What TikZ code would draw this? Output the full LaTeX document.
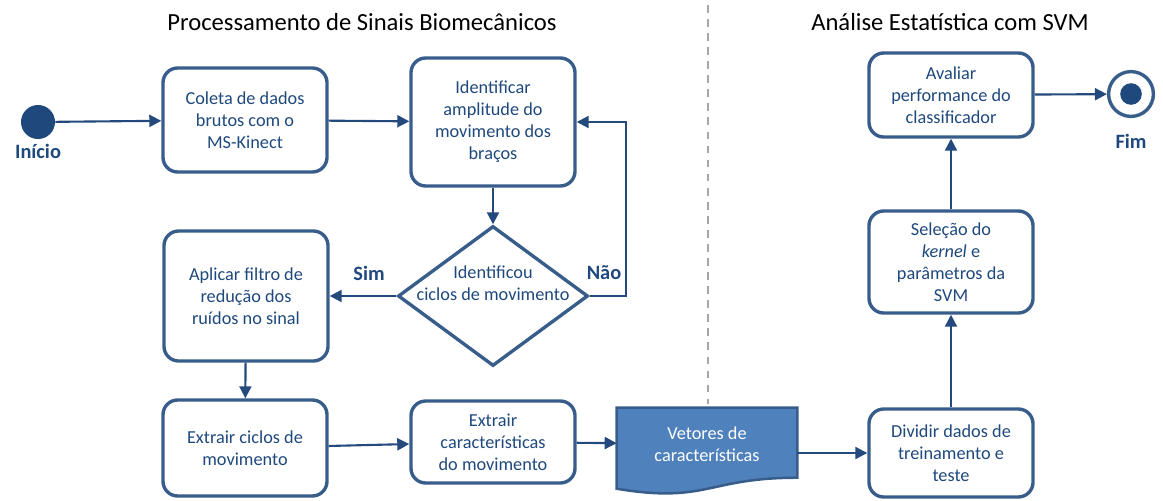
\documentclass[tikz,border=0pt]{standalone}
\usepackage{fontspec}
\setmainfont{Carlito}
\usetikzlibrary{shapes.geometric, arrows.meta, positioning, calc, backgrounds}
\definecolor{textblue}{RGB}{31,73,125}
\definecolor{boxblue}{RGB}{56,93,138}
\definecolor{arrowblue}{RGB}{36,73,125}
\definecolor{docfill}{RGB}{79,129,189}
\definecolor{sepgray}{RGB}{166,166,166}

\begin{document}
\begin{tikzpicture}[
    x=0.025cm, y=-0.025cm,
    proc/.style={draw=boxblue, line width=2.4pt, fill=white, rounded corners=10.5pt, minimum width=4.1cm, text=textblue, font=\fontsize{13}{15.6}\selectfont, align=center, inner sep=2pt},
    decision/.style={diamond, draw=boxblue, line width=2.4pt, fill=white, minimum width=4.75cm, minimum height=3.5cm, inner sep=0pt},
    dectext/.style={text=textblue, font=\fontsize{13}{15.6}\selectfont, align=center},
    docbox/.style={minimum width=4.5cm, minimum height=1.8cm, text=white, font=\fontsize{13}{15.6}\selectfont, align=center, inner sep=0pt},
    docshape/.style={fill=docfill, draw=boxblue, line width=1.8pt},
    startnode/.style={circle, fill=textblue, minimum size=0.85cm, inner sep=0pt},
    endring/.style={circle, draw=boxblue, line width=2.4pt, fill=white, minimum size=1.12cm, inner sep=0pt,
        path picture={\fill[textblue] (path picture bounding box.center) circle (0.27cm);}},
    tag/.style={text=textblue, font=\fontsize{14.5}{17}\selectfont\bfseries},
    heading/.style={font=\fontsize{17.5}{21}\selectfont, text=black},
    sep/.style={sepgray, line width=1.4pt, dash pattern=on 5.5pt off 4.5pt},
    arrow/.style={-{Triangle[length=3mm, width=3mm]}, arrowblue, line width=1.5pt}
]
    \useasboundingbox (0,0) rectangle (1163,500);

    % titles and separator
    \node[heading] (tproc) at (362,22) {Processamento de Sinais Biomecânicos};
    \node[heading] (tsvm) at (950,22) {Análise Estatística com SVM};
    \draw[sep] (708,5) -- (708,404);

    % signal processing
    \node[startnode, label={[tag, label distance=0pt]below:Início}] (ini) at (38,122) {};
    \node[proc, minimum height=2.6cm] (coleta) at (245,120) {Coleta de dados\\brutos com o\\MS-Kinect};
    \node[proc, minimum height=3.2cm] (ident) at (493,122) {Identificar\\amplitude do\\movimento dos\\braços};
    \node[decision, label={[dectext, yshift=0.32cm]center:Identificou\\ciclos de movimento}] (dec) at (493,296) {};
    \node[tag] (sim) at (369,273) {Sim};
    \node[tag] (nao) at (604,273) {Não};
    \node[proc, minimum height=3.25cm] (filtro) at (246,296) {Aplicar filtro de\\redução dos\\ruídos no sinal};
    \node[proc, minimum height=2.4cm] (ciclos) at (245,448) {Extrair ciclos de\\movimento};
    \node[proc, minimum height=2.05cm] (carac) at (493,442) {Extrair\\características\\do movimento};

    \node[docbox] (vet) at (707,444) {Vetores de\\características};
    \begin{scope}[on background layer]
        \draw[docshape] (vet.north west) -- (vet.north east) -- ($(vet.north east)+(0,70)$)
            .. controls ($(vet.north)+(0,70)$) and ($(vet.north)+(0,96)$) .. ($(vet.north west)+(0,81)$) -- cycle;
    \end{scope}

    % statistical analysis
    \node[proc, minimum height=2.2cm] (divid) at (951,453) {Dividir dados de\\treinamento e\\teste};
    \node[proc, minimum height=2.55cm] (selec) at (951,262) {Seleção do\\\textit{kernel} e\\parâmetros da\\SVM};
    \node[proc, minimum height=2.1cm] (aval) at (951,95) {Avaliar\\performance do\\classificador};
    \node[endring, label={[tag, label distance=8pt]below:Fim}] (fim) at (1131,94) {};

    \draw[arrow] (ini) -- (coleta);
    \draw[arrow] (coleta) -- (ident);
    \draw[arrow] (ident) -- (dec);
    \draw[arrow] (dec.east) -- ++(36,0) |- (ident.east);
    \draw[arrow] (dec.west) -- (filtro.east);
    \draw[arrow] (filtro) -- (ciclos);
    \draw[arrow] (ciclos) -- (carac);
    \draw[arrow] (carac) -- (vet);
    \draw[arrow] ($(vet.east)+(0,9)$) -- (divid.west);
    \draw[arrow] (divid) -- (selec);
    \draw[arrow] (selec) -- (aval);
    \draw[arrow] (aval) -- (fim);
\end{tikzpicture}
\end{document}
